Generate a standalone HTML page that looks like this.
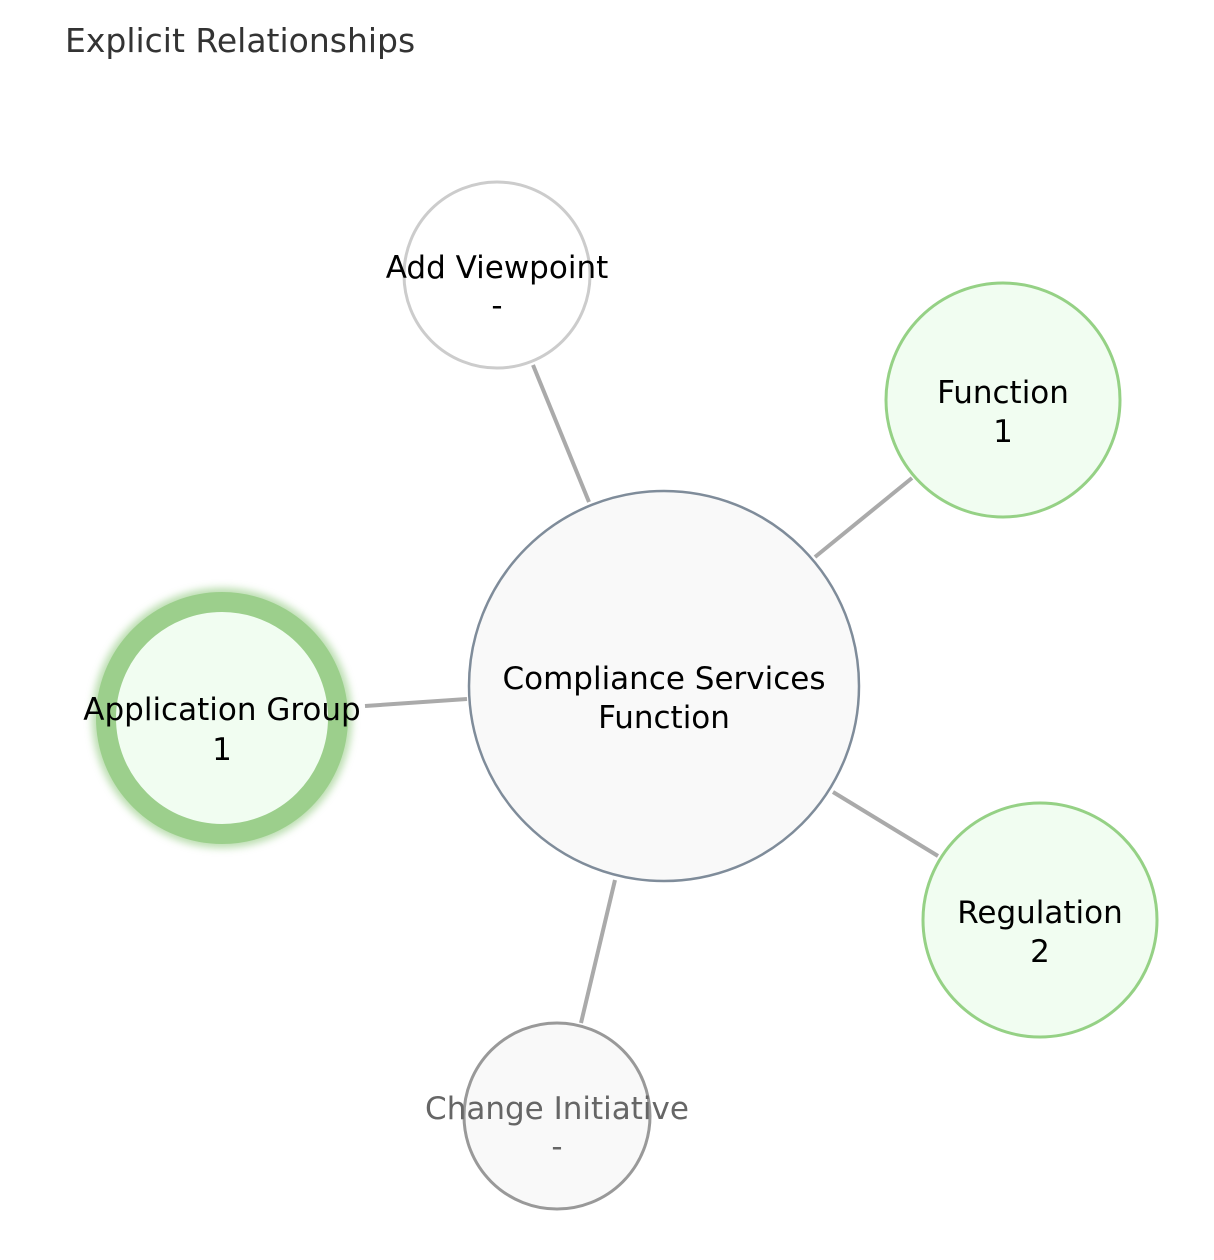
<!DOCTYPE html>
<html><head><meta charset="utf-8"><style>
html,body{margin:0;padding:0;background:#fff;}
svg{display:block;}
text{font-family:"DejaVu Sans","Liberation Sans",sans-serif;}
</style></head><body>
<svg width="1214" height="1260" viewBox="0 0 1214 1260" xmlns="http://www.w3.org/2000/svg">
<defs>
<filter id="glow" x="-30%" y="-30%" width="160%" height="160%"><feGaussianBlur stdDeviation="4"/></filter>
</defs>
<text x="65" y="52" font-size="33" fill="#333">Explicit Relationships</text>
<g stroke="#aaa" stroke-width="4">
<line x1="533" y1="365" x2="589" y2="502"/>
<line x1="815" y1="557" x2="912" y2="478"/>
<line x1="365" y1="706" x2="467" y2="699"/>
<line x1="833" y1="792" x2="938" y2="856"/>
<line x1="615" y1="880" x2="581" y2="1023"/>
</g>
<circle cx="664" cy="686" r="195" fill="#f9f9f9" stroke="#7f8c9a" stroke-width="2.5"/>
<text x="664" y="689" font-size="31" text-anchor="middle" fill="#000">Compliance Services</text>
<text x="664" y="728" font-size="31" text-anchor="middle" fill="#000">Function</text>

<circle cx="497" cy="275" r="93" fill="#fff" stroke="#ccc" stroke-width="3"/>
<text x="497" y="278" font-size="31" text-anchor="middle">Add Viewpoint</text>
<text x="497" y="316" font-size="31" text-anchor="middle">-</text>

<circle cx="1003" cy="400" r="117" fill="#f1fdf1" stroke="#95d185" stroke-width="3"/>
<text x="1003" y="403" font-size="31" text-anchor="middle">Function</text>
<text x="1003" y="442" font-size="31" text-anchor="middle">1</text>

<circle cx="222" cy="718" r="117" fill="none" stroke="#9ccf8c" stroke-width="26" filter="url(#glow)" opacity="0.7"/>
<circle cx="222" cy="718" r="116" fill="#f1fdf1" stroke="#9ccf8c" stroke-width="20"/>
<text x="222" y="720" font-size="31" text-anchor="middle">Application Group</text>
<text x="222" y="760" font-size="31" text-anchor="middle">1</text>

<circle cx="1040" cy="920" r="117" fill="#f1fdf1" stroke="#95d185" stroke-width="3"/>
<text x="1040" y="923" font-size="31" text-anchor="middle">Regulation</text>
<text x="1040" y="962" font-size="31" text-anchor="middle">2</text>

<circle cx="557" cy="1116" r="93" fill="#f9f9f9" stroke="#999" stroke-width="3"/>
<text x="557" y="1119" font-size="31" text-anchor="middle" fill="#666">Change Initiative</text>
<text x="557" y="1157" font-size="31" text-anchor="middle" fill="#666">-</text>
</svg>
</body></html>
